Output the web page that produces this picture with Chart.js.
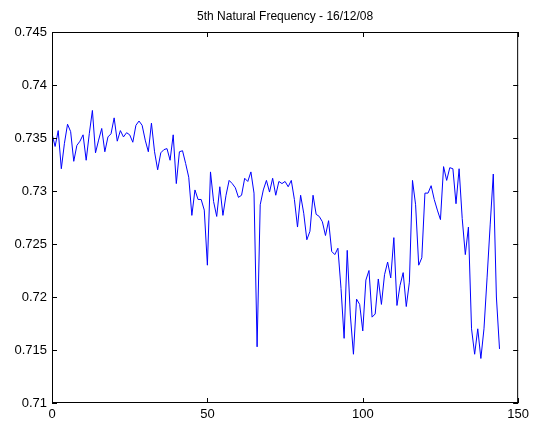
<!DOCTYPE html>
<html>
<head>
<meta charset="utf-8">
<script src="https://cdn.jsdelivr.net/npm/chart.js@4"></script>
<style>
  html, body { margin: 0; padding: 0; background: #fff; }
  #chart { display: block; }
</style>
</head>
<body>
<canvas id="chart" width="533" height="423"></canvas>
<script>
const chartTitle = '5th Natural Frequency - 16/12/08';

// sample values (x = 0 .. 144)
const frequency = [
    0.7354, 0.7342, 0.7357, 0.7321, 0.7345, 0.7363, 0.7356, 0.7328, 0.7343, 0.7347,
    0.7353, 0.7329, 0.7354, 0.7376, 0.7336, 0.7348, 0.7359, 0.7337, 0.7351, 0.7354,
    0.7369, 0.7347, 0.7357, 0.7351, 0.7355, 0.7353, 0.7346, 0.7362, 0.7366, 0.7362,
    0.7348, 0.7337, 0.7364, 0.7337, 0.7320, 0.7336, 0.7339, 0.7340, 0.7329, 0.7353,
    0.7307, 0.7337, 0.7338, 0.7326, 0.7313, 0.7277, 0.7301, 0.7292, 0.7292, 0.7282,
    0.7230, 0.7318, 0.7290, 0.7276, 0.7304, 0.7277, 0.7296, 0.7310, 0.7307, 0.7303,
    0.7294, 0.7296, 0.7312, 0.7309, 0.7318, 0.7298, 0.7153, 0.7287, 0.7301, 0.7310,
    0.7299, 0.7312, 0.7296, 0.7309, 0.7307, 0.7309, 0.7304, 0.7310, 0.7292, 0.7266,
    0.7296, 0.7279, 0.7254, 0.7262, 0.7296, 0.7278, 0.7276, 0.7271, 0.7258, 0.7272,
    0.7243, 0.7240, 0.7246, 0.7208, 0.7161, 0.7244, 0.7183, 0.7146, 0.7198, 0.7193,
    0.7168, 0.7216, 0.7225, 0.7181, 0.7184, 0.7217, 0.7193, 0.7221, 0.7233, 0.7218,
    0.7256, 0.7192, 0.7211, 0.7223, 0.7191, 0.7214, 0.7310, 0.7287, 0.7230, 0.7237,
    0.7298, 0.7298, 0.7305, 0.7292, 0.7282, 0.7273, 0.7323, 0.7310, 0.7322, 0.7321,
    0.7288, 0.7321, 0.7274, 0.7240, 0.7266, 0.7170, 0.7146, 0.7170, 0.7142, 0.7170,
    0.7218, 0.7268, 0.7316, 0.7200, 0.7151
];

const xTicks = [0, 50, 100, 150];
const yTicks = [0.71, 0.715, 0.72, 0.725, 0.73, 0.735, 0.74, 0.745];

const points = frequency.map((v, i) => ({ x: i, y: v }));

// matlab-ish box with inward tick marks
const boxPlugin = {
    id: 'boxTicks',
    afterDraw(chart) {
        const ctx = chart.ctx;
        const a = chart.chartArea;
        const xs = chart.scales.x;
        const ys = chart.scales.y;
        const len = 5;

        ctx.save();
        ctx.strokeStyle = '#000';
        ctx.lineWidth = 1;
        ctx.strokeRect(a.left + 0.5, a.top + 0.5, a.right - a.left - 1, a.bottom - a.top - 1);

        ctx.beginPath();
        xTicks.forEach(t => {
            const px = Math.round(xs.getPixelForValue(t)) + 0.5;
            ctx.moveTo(px, a.bottom);
            ctx.lineTo(px, a.bottom - len);
            ctx.moveTo(px, a.top);
            ctx.lineTo(px, a.top + len);
        });
        yTicks.forEach(t => {
            const py = Math.round(ys.getPixelForValue(t)) + 0.5;
            ctx.moveTo(a.left, py);
            ctx.lineTo(a.left + len, py);
            ctx.moveTo(a.right, py);
            ctx.lineTo(a.right - len, py);
        });
        ctx.stroke();

        ctx.fillStyle = '#000';
        ctx.font = '12px "Liberation Sans", Arial, sans-serif';
        ctx.textAlign = 'center';
        ctx.textBaseline = 'middle';
        ctx.fillText(chartTitle, (a.left + a.right) / 2, 17);
        ctx.restore();
    }
};

new Chart(document.getElementById('chart'), {
    type: 'line',
    data: {
        datasets: [{
            data: points,
            borderColor: '#0000ff',
            borderWidth: 1,
            pointRadius: 0,
            fill: false,
            tension: 0
        }]
    },
    options: {
        responsive: false,
        animation: false,
        layout: { padding: { top: 32, right: 13, left: 0, bottom: 0 } },
        plugins: {
            legend: { display: false },
            tooltip: { enabled: false },
            title: { display: false }
        },
        scales: {
            x: {
                type: 'linear',
                min: 0,
                max: 150,
                afterFit: s => { s.height = 20; },
                afterBuildTicks: s => { s.ticks = xTicks.map(v => ({ value: v })); },
                grid: { display: false, drawTicks: false },
                border: { display: false },
                ticks: {
                    padding: 4,
                    color: '#000',
                    font: { family: '"Liberation Sans", Arial, sans-serif', size: 13 },
                    maxRotation: 0,
                    callback: v => String(v)
                }
            },
            y: {
                min: 0.71,
                max: 0.745,
                afterFit: s => { s.width = 52; },
                afterBuildTicks: s => { s.ticks = yTicks.map(v => ({ value: v })); },
                grid: { display: false, drawTicks: false },
                border: { display: false },
                ticks: {
                    padding: 5,
                    color: '#000',
                    font: { family: '"Liberation Sans", Arial, sans-serif', size: 13 },
                    callback: v => String(Number(v.toFixed(3)))
                }
            }
        }
    },
    plugins: [boxPlugin]
});
</script>
</body>
</html>
